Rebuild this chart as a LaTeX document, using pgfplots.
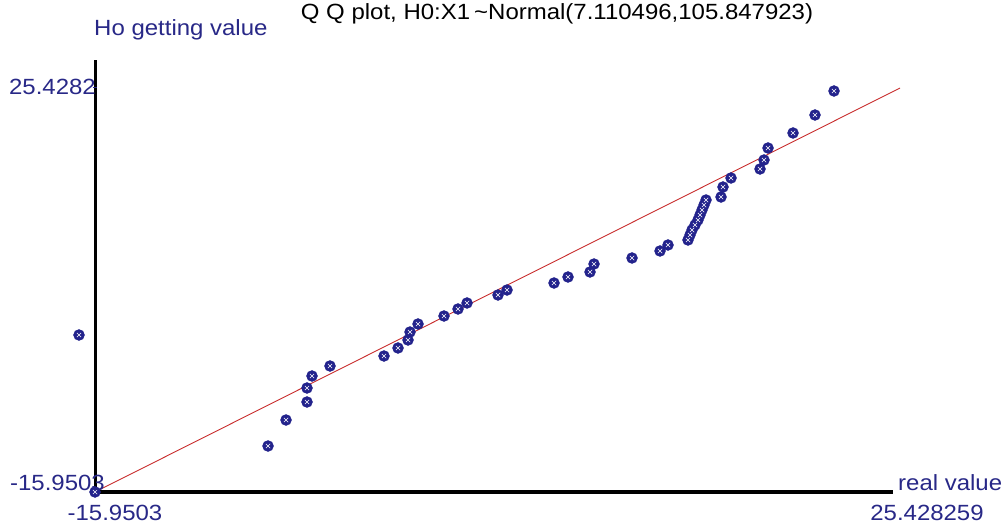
\documentclass[border=0pt]{standalone}
\usepackage{pgfplots}
\pgfplotsset{compat=1.18}
\usepackage{pgfplotstable}
\usepackage{fontspec}
\setmainfont{Liberation Sans}
\definecolor{lbl}{RGB}{40,40,135}
\definecolor{mk}{RGB}{35,35,140}
\definecolor{qqred}{RGB}{200,45,45}
\pgfplotstableread{
x y
-15.950 -15.950
-16.773 0.130
-7.057 -11.239
-6.132 -8.576
-5.053 -6.732
-5.053 -5.298
-4.796 -4.069
-3.871 -3.045
-1.095 -2.021
-0.375 -1.201
0.139 -0.382
0.242 0.437
0.653 1.257
1.989 2.076
2.709 2.793
3.172 3.408
4.765 4.227
5.228 4.739
7.644 5.456
8.363 6.071
9.494 6.583
9.700 7.402
11.653 8.017
13.092 8.734
13.503 9.348
14.531 9.860
14.634 10.372
14.737 10.885
14.891 11.397
15.045 11.909
15.148 12.421
15.251 12.933
15.354 13.445
15.457 13.957
16.228 14.264
16.330 15.289
16.742 16.211
18.232 17.132
18.438 18.054
18.644 19.283
19.929 20.820
21.059 22.663
22.036 25.121
}\qq
\begin{document}
\begin{tikzpicture}[x=1pt,y=1pt]
\fontsize{22}{26}\selectfont
\path[use as bounding box] (0,0) rectangle (1006,528);
\begin{axis}[at={(95pt,36pt)}, anchor=south west, scale only axis,
  width=805pt, height=404pt,
  xmin=-15.9503, xmax=25.428259, ymin=-15.9503, ymax=25.4282,
  hide axis, clip=false]
\draw[line width=3pt] (axis cs:-15.9503,-16.05) -- (axis cs:-15.9503,28.3);
\draw[line width=3.5pt] (axis cs:-16.03,-15.9503) -- (axis cs:25.07,-15.9503);
\draw[line width=1pt, lbl] (axis cs:-16.05,25.4282) -- (axis cs:-15.85,25.4282);
\addplot[qqred, line width=0.9pt] coordinates {(-15.9503,-15.9503) (25.428259,25.4282)};
\addplot[only marks, mark=*, mark size=5.5pt, mark options={fill=mk, draw=mk}] table {\qq};
\addplot[only marks, mark=x, mark size=3pt, mark options={draw=white, line width=0.6pt}] table {\qq};
\end{axis}
\node[anchor=center, black, xscale=1.09] at (557,514) {Q Q plot, H0:X1\,\textasciitilde Normal(7.110496,105.847923)};
\node[anchor=west, lbl, inner sep=0pt, xscale=1.09] at (94,498) {Ho getting value};
\node[anchor=east, lbl, inner sep=0pt, xscale=1.09] at (96,441) {25.4282};
\node[anchor=east, lbl, inner sep=0pt, xscale=1.09] at (105,45) {-15.9503};
\node[anchor=center, lbl, inner sep=0pt, xscale=1.09] at (115,15) {-15.9503};
\node[anchor=west, lbl, inner sep=0pt, xscale=1.09] at (898,45) {real value};
\node[anchor=center, lbl, inner sep=0pt, xscale=1.09] at (927,15) {25.428259};
\end{tikzpicture}
\end{document}
